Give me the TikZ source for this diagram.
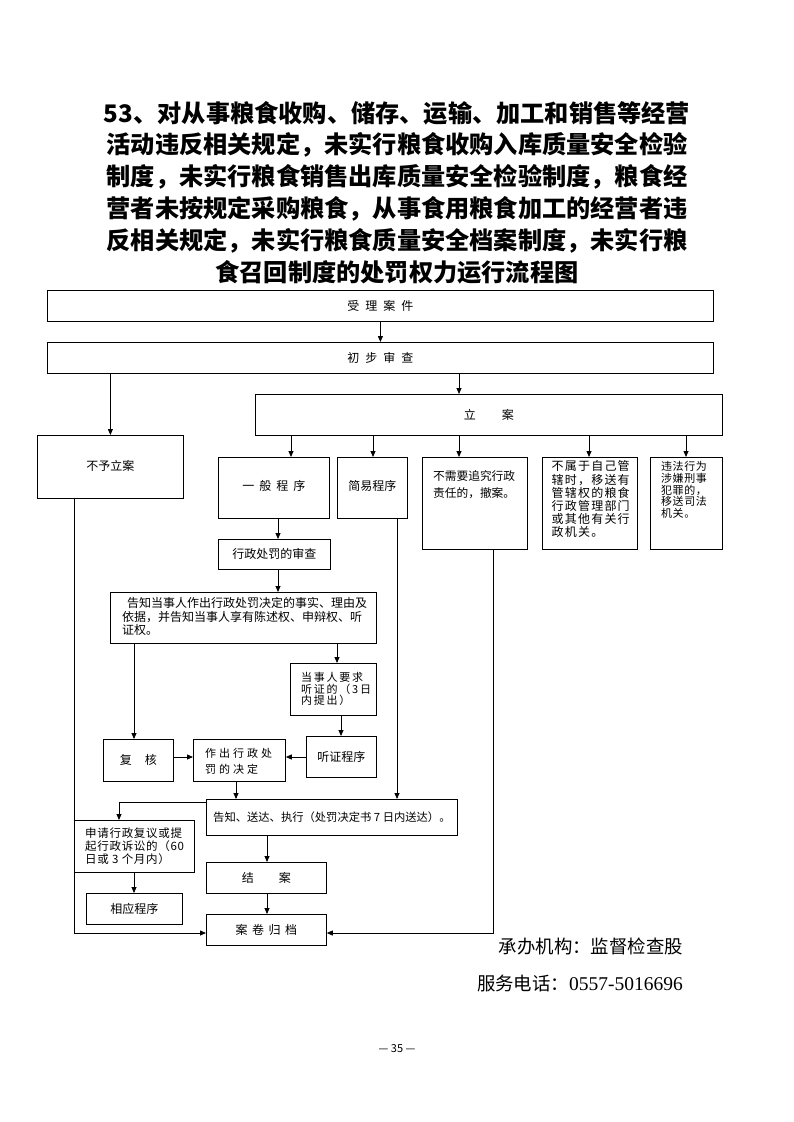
\documentclass[tikz,border=0pt]{standalone}
\usepackage{fontspec}
\newfontfamily\cjk{Noto Sans CJK SC}
\newfontfamily\latser{Liberation Serif}
\usetikzlibrary{arrows.meta,calc}
\newcommand\fsz[2]{\fontsize{#1}{#2}\selectfont}
\newcommand\ls[1]{\addfontfeatures{LetterSpace=#1}}
\begin{document}
\begin{tikzpicture}[x=1pt,y=-1pt,
  box/.style={draw, line width=0.8pt, inner sep=0pt, anchor=north west, font=\cjk\fsz{12}{14}},
  txt/.style={inner sep=0pt, anchor=north west, align=left},
  arr/.style={line width=0.8pt, -{Triangle[length=6pt,width=5pt]}},
  ln/.style={line width=0.8pt},
  ttl/.style={inner sep=0pt, font=\cjk\bfseries\fsz{24.2}{26}}]
\useasboundingbox (0,0) rectangle (793,1122);

% title
\node[ttl] (t1) at (397,113) {53、对从事粮食收购、储存、运输、加工和销售等经营};
\node[ttl] (t2) at (397,145) {活动违反相关规定，未实行粮食收购入库质量安全检验};
\node[ttl] (t3) at (397,177) {制度，未实行粮食销售出库质量安全检验制度，粮食经};
\node[ttl] (t4) at (397,209) {营者未按规定采购粮食，从事食用粮食加工的经营者违};
\node[ttl] (t5) at (397,241) {反相关规定，未实行粮食质量安全档案制度，未实行粮};
\node[ttl] (t6) at (397,272) {食召回制度的处罚权力运行流程图};

% boxes
\node[box, minimum width=666, minimum height=31] (shouli) at (47,290) {受\hspace{6pt}理\hspace{6pt}案\hspace{6pt}件};
\node[box, minimum width=666, minimum height=31] (chubu) at (47,342) {初\hspace{6pt}步\hspace{6pt}审\hspace{6pt}查};
\node[box, minimum width=467, minimum height=41] (lian) at (255,394) {立\hspace{26pt}案};
\node[box, minimum width=146, minimum height=63] (buyu) at (37,435) {\raisebox{3pt}{不予立案}};
\node[box, minimum width=111, minimum height=61] (yiban) at (218,457) {\raisebox{4pt}{一\hspace{5pt}般\hspace{5pt}程\hspace{5pt}序}};
\node[box, minimum width=70, minimum height=61] (jianyi) at (337,457) {\raisebox{4pt}{简易程序}};
\node[box, minimum width=105, minimum height=92] (bux) at (422,457) {};
\node[box, minimum width=95, minimum height=92] (bushu) at (542,457) {};
\node[box, minimum width=72, minimum height=92] (weifa) at (650,457) {};
\node[box, minimum width=112, minimum height=30] (shencha) at (218,539) {行政处罚的审查};
\node[box, minimum width=266, minimum height=51] (gaozhi) at (110,592) {};
\node[box, minimum width=86, minimum height=52] (dangshi) at (290,663) {};
\node[box, minimum width=70, minimum height=41] (tingzheng) at (306,736) {听证程序};
\node[box, minimum width=70, minimum height=42] (fuhe) at (103,739) {复\hspace{13pt}核};
\node[box, minimum width=92, minimum height=42] (zuochu) at (193,739) {};
\node[box, minimum width=251, minimum height=36, font=\cjk\fsz{11.3}{13}] (songda) at (206,799) {告知、送达、执行（处罚决定书 7 日内送达）。};
\node[box, minimum width=120, minimum height=52] (shenqing) at (74,820) {};
\node[box, minimum width=96, minimum height=31] (xiangying) at (86,893) {相应程序};
\node[box, minimum width=120, minimum height=31] (jiean) at (206,862) {结\hspace{25pt}案};
\node[box, minimum width=120, minimum height=31] (guidang) at (206,914) {案\hspace{4.5pt}卷\hspace{4.5pt}归\hspace{4.5pt}档};

% multi-line texts
\node[txt, font=\cjk\fsz{11.7}{17}] (buxt) at (433,470.5) {不需要追究行政\\责任的，撤案。};
\node[txt, font=\cjk\fsz{12}{13.2}\ls{10}] (bushut) at (551.5,460.6) {不属于自己管\\辖时，移送有\\管辖权的粮食\\行政管理部门\\或其他有关行\\政机关。};
\node[txt, font=\cjk\fsz{11}{11.8}\ls{5}] (weifat) at (661,461) {违法行为\\涉嫌刑事\\犯罪的，\\移送司法\\机关。};
\node[txt, font=\cjk\fsz{12}{13.5}] (gaozhit) at (122,597.6) {\hspace{5pt}告知当事人作出行政处罚决定的事实、理由及\\依据，并告知当事人享有陈述权、申辩权、听\\证权。};
\node[txt, font=\cjk\fsz{11}{11.7}\ls{16}] (dangshit) at (301,672) {当事人要求\\听证的（3日\\内提出）};
\node[txt, font=\cjk\fsz{11}{16}] (zuochut) at (205,748) {作\hspace{3pt}出\hspace{3pt}行\hspace{3pt}政\hspace{3pt}处\\罚\hspace{3pt}的\hspace{3pt}决\hspace{3pt}定};
\node[txt, font=\cjk\fsz{11.5}{12.8}\ls{6}] (shenqingt) at (85,827.8) {申请行政复议或提\\起行政诉讼的（60\\日或 3 个月内）};

% connectors
\draw[arr] (shouli) -- (chubu);
\draw[arr] (buyu.north |- chubu.south) -- (buyu.north);
\draw[arr] (459,0 |- chubu.south) -- (459,0 |- lian.north);
\draw[arr] (291,0 |- lian.south) -- (291,0 |- yiban.north);
\draw[arr] (373,0 |- lian.south) -- (373,0 |- jianyi.north);
\draw[arr] (459,0 |- lian.south) -- (459,0 |- bux.north);
\draw[arr] (589,0 |- lian.south) -- (589,0 |- bushu.north);
\draw[arr] (686,0 |- lian.south) -- (686,0 |- weifa.north);
\draw[arr] (278,0 |- yiban.south) -- (278,0 |- shencha.north);
\draw[arr] (278,0 |- shencha.south) -- (278,0 |- gaozhi.north);
\draw[arr] (134,0 |- gaozhi.south) -- (134,0 |- fuhe.north);
\draw[arr] (337,0 |- gaozhi.south) -- (337,0 |- dangshi.north);
\draw[arr] (341,0 |- dangshi.south) -- (341,0 |- tingzheng.north);
\draw[arr] (fuhe.east |- 0,757) -- (zuochu.west |- 0,757);
\draw[arr] (tingzheng.west |- 0,757) -- (zuochu.east |- 0,757);
\draw[arr] (236,0 |- zuochu.south) -- (236,0 |- songda.north);
\draw[arr] (397,0 |- jianyi.south) -- (397,0 |- songda.north);
\draw[arr] (songda.west |- 0,802) -| (119,0 |- shenqing.north);
\draw[arr] (134,0 |- shenqing.south) -- (134,0 |- xiangying.north);
\draw[arr] (267,0 |- songda.south) -- (267,0 |- jiean.north);
\draw[arr] (267,0 |- jiean.south) -- (267,0 |- guidang.north);
\coordinate (bendL) at (74,933);
\coordinate (bendR) at (493,933);
\draw[arr] (bendL |- buyu.south) -- (bendL) -- (guidang.west |- bendL);
\draw[arr] (bendR |- bux.south) -- (bendR) -- (guidang.east |- bendR);

% footer
\node[inner sep=0pt, anchor=east, font=\cjk\fsz{18.4}{20}] (org) at (683,946) {承办机构：监督检查股};
\node[inner sep=0pt, anchor=east, font=\cjk\fsz{18.4}{20}] (tel) at (683,983) {服务电话：{\latser\fontsize{19.5}{20}\selectfont 0557-5016696}};
\node[inner sep=0pt, font=\cjk\fsz{11}{12}] (page) at (397,1049) {— 35 —};
\end{tikzpicture}
\end{document}
